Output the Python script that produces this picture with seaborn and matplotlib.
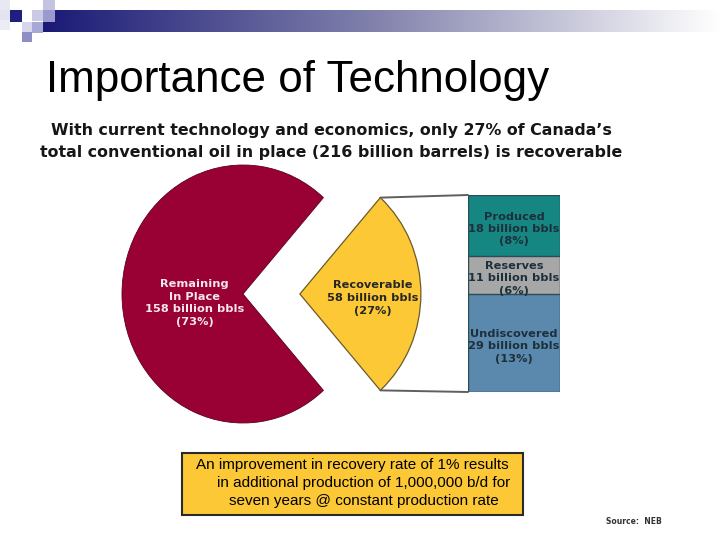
import numpy as np
import pandas as pd
import seaborn as sns
import matplotlib
matplotlib.use("Agg")
import matplotlib.pyplot as plt
from matplotlib.patches import Rectangle, ConnectionPatch
from matplotlib.colors import LinearSegmentedColormap

# oil in place, billion barrels
pie_labels = ["Recoverable", "Remaining\nIn Place"]
pie_values = [58, 158]
pie_pcts = [27, 73]

# breakdown of the recoverable part
bar_labels = ["Produced", "Reserves", "Undiscovered"]
bar_values = [18, 11, 29]
bar_pcts = [8, 6, 13]

title = "Importance of Technology"
subtitle = ["With current technology and economics, only 27% of Canada\u2019s",
            "total conventional oil in place (216 billion barrels) is recoverable"]
note = ["An improvement in recovery rate of 1% results",
        "in additional production of 1,000,000 b/d for",
        "seven years @ constant production rate"]
source = "Source:  NEB"

YELLOW = "#fcc836"
CRIMSON = "#990033"
bar_colors = {"Produced": "#168682", "Reserves": "#a7a7a7", "Undiscovered": "#5a89ad"}

sns.set_theme(style="white")
plt.rcParams['font.family'] = ['DejaVu Sans']

W, H = 720, 540
fig = plt.figure(figsize=(7.2, 5.4), dpi=100)


def px_axes(left, top, right, bottom):
    return fig.add_axes([left / W, 1 - bottom / H, (right - left) / W, (bottom - top) / H])


# background layer in pixel coords
bg = fig.add_axes([0, 0, 1, 1])
grad = LinearSegmentedColormap.from_list("band", ["#1a1a76", "#8484ae", "#ffffff"])
bg.imshow(np.linspace(0, 1, 256)[None, :], extent=[43, 720, 32, 10], cmap=grad, aspect="auto")
for (x, y, s, c) in [(0, 0, 10, "#e8e8f3"), (0, 10, 10, "#e4e4f1"), (0, 20, 10, "#ececf6"),
                     (10, 10, 12, "#1f1f80"), (32, 10, 11, "#cacae6"), (43, 0, 12, "#c4c4e2"),
                     (43, 10, 12, "#9a9acf"), (22, 22, 10, "#d6d6ec"), (32, 22, 11, "#a8a8d6"),
                     (22, 32, 10, "#8e8ec6")]:
    bg.add_patch(Rectangle((x, y), s, s, color=c, lw=0))
bg.text(46, 92, title, fontsize=31.7, family="Liberation Sans", va="baseline", ha="left", color="black")
bg.text(331, 131, subtitle[0], fontsize=11.4, weight="bold", ha="center", va="center", color="#161616")
bg.text(331, 153, subtitle[1], fontsize=11.4, weight="bold", ha="center", va="center", color="#161616")
bg.add_patch(Rectangle((182, 453), 341, 62, facecolor=YELLOW, edgecolor="#2a2a2a", lw=1.5))
for line, xc, yc in zip(note, [352, 364, 364], [465, 483, 501]):
    bg.text(xc, yc, line, fontsize=11, family="Liberation Sans", ha="center", va="center", color="black")
bg.text(634, 522, source, fontsize=5.5, weight="bold", ha="center", va="center", color="#333333")
bg.set_xlim(0, W)
bg.set_ylim(H, 0)
bg.axis("off")

# pie, slightly squeezed horizontally like the slide
cx, cy, rx, ry = 243, 294, 121, 129
x0, x1, y0, y1 = -1.1, 1.7, -1.1, 1.1
ax_pie = px_axes(cx + x0 * rx, cy - y1 * ry, cx + x1 * rx, cy - y0 * ry)
half = 360 * pie_values[0] / sum(pie_values) / 2
explode = 0.47
wedges, _ = ax_pie.pie(pie_values, colors=[YELLOW, CRIMSON], startangle=-half,
                       explode=[explode, 0], frame=True, wedgeprops=dict(linewidth=0))
wedges[0].set_edgecolor("#6b5a2a")
wedges[0].set_linewidth(0.9)
wedges[1].set_edgecolor("#5a0020")
wedges[1].set_linewidth(0.6)
ax_pie.set_xlim(x0, x1)
ax_pie.set_ylim(y0, y1)
ax_pie.set_aspect("auto")
ax_pie.axis("off")
ax_pie.text(explode + 0.6, -0.03,
            f"{pie_labels[0]}\n{pie_values[0]} billion bbls\n({pie_pcts[0]}%)",
            ha="center", va="center", fontsize=8.2, weight="bold", color="#262626", linespacing=1.35)
ax_pie.text(-0.40, -0.07,
            f"{pie_labels[1]}\n{pie_values[1]} billion bbls\n({pie_pcts[1]}%)",
            ha="center", va="center", fontsize=8.2, weight="bold", color="#f6e6ee", linespacing=1.35)

# stacked bar (drawn from the top segment down, overlapping)
ax_bar = px_axes(468, 195, 560, 392)
cum = np.cumsum(bar_values[::-1])[::-1]  # Produced, Reserves, Undiscovered tops
df = pd.DataFrame({"name": bar_labels, "top": cum, "value": bar_values, "pct": bar_pcts})
for _, row in df.iterrows():
    sns.barplot(x=["oil"], y=[row["top"]], color=bar_colors[row["name"]], saturation=1,
                edgecolor="#2e4a58", linewidth=1.0, width=0.8, ax=ax_bar)
    mid = row["top"] - row["value"] / 2 - 1
    ax_bar.text(0, mid, f"{row['name']}\n{row['value']} billion bbls\n({row['pct']}%)",
                ha="center", va="center", fontsize=8.2, weight="bold", color="#1d2f3a",
                linespacing=1.3)
ax_bar.set_xlim(-0.4, 0.4)
ax_bar.set_ylim(0, sum(bar_values))
ax_bar.axis("off")

# connector lines from the recoverable wedge to the bar
h = np.radians(half)
for sy, by in [(1, sum(bar_values)), (-1, 0)]:
    con = ConnectionPatch(xyA=(explode + np.cos(h), sy * np.sin(h)), coordsA=ax_pie.transData,
                          xyB=(-0.4, by), coordsB=ax_bar.transData, color="#5f5f5f", lw=1.4)
    fig.add_artist(con)

fig.savefig("out.png", dpi=100)
